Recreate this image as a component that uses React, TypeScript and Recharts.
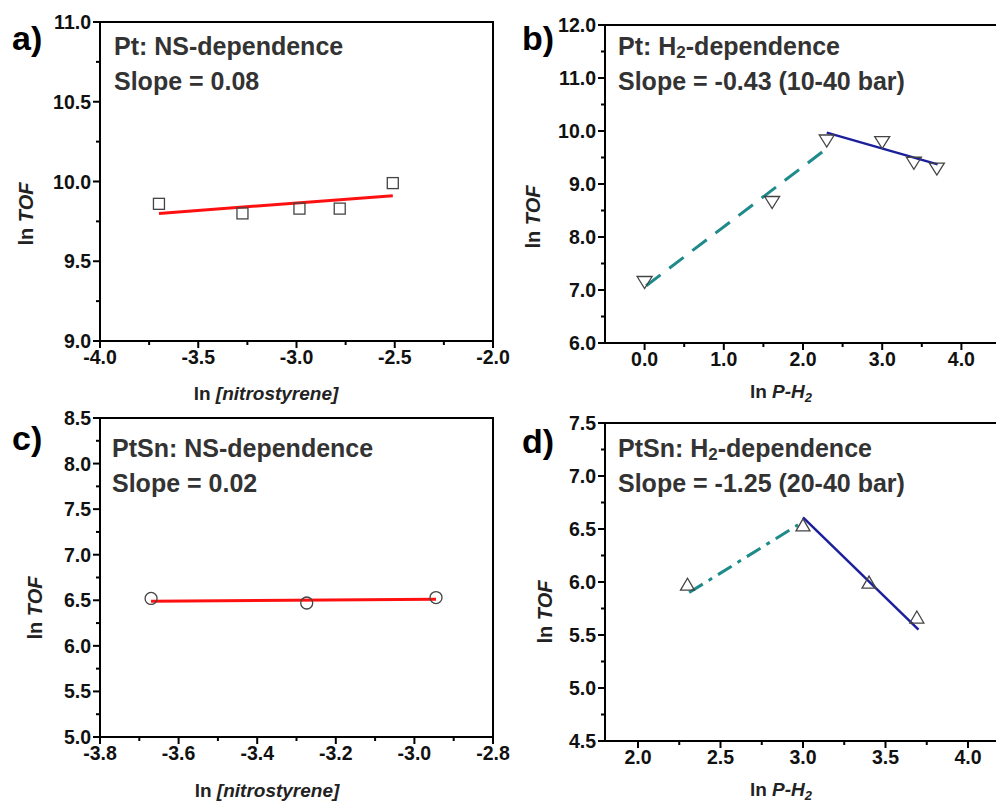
import { ComposedChart, Line, ReferenceArea, Scatter, XAxis, YAxis } from 'recharts';

const FONT = '"Liberation Sans", Arial, sans-serif';
const TEAL = '#1f8a8a';
const NAVY = '#1b1f9c';
const RED = '#ff1010';
const MARK = '#444';

// a) Pt: NS-dependence
const ptNsX = [-3.7, -3.275, -2.985, -2.78, -2.51];
const ptNsY = [9.86, 9.8, 9.83, 9.83, 9.99];
const ptNsFitX = [-3.7, -2.51];
const ptNsFitY = [9.8, 9.91];

// b) Pt: H2-dependence
const ptH2X = [0, 1.61, 2.3, 3.0, 3.4, 3.69];
const ptH2Y = [7.16, 8.67, 9.83, 9.8, 9.41, 9.3];
const ptH2LowFitX = [0.02, 2.31];
const ptH2LowFitY = [7.08, 9.68];
const ptH2HighFitX = [2.3, 3.7];
const ptH2HighFitY = [9.97, 9.37];

// c) PtSn: NS-dependence
const ptSnNsX = [-3.67, -3.274, -2.945];
const ptSnNsY = [6.52, 6.47, 6.53];
const ptSnNsFitX = [-3.67, -2.945];
const ptSnNsFitY = [6.49, 6.51];

// d) PtSn: H2-dependence
const ptSnH2X = [2.3, 3.0, 3.4, 3.69];
const ptSnH2Y = [5.97, 6.53, 5.99, 5.66];
const ptSnH2LowFitX = [2.31, 2.97];
const ptSnH2LowFitY = [5.9, 6.54];
const ptSnH2HighFitX = [3.0, 3.7];
const ptSnH2HighFitY = [6.61, 5.55];

// ticks
const aXMajor = [-4, -3.5, -3, -2.5, -2];
const aXMinor = [-3.75, -3.25, -2.75, -2.25];
const aYMajor = [9, 9.5, 10, 10.5, 11];
const aYMinor = [9.25, 9.75, 10.25, 10.75];
const bXMajor = [0, 1, 2, 3, 4];
const bXMinor = [0.5, 1.5, 2.5, 3.5];
const bYMajor = [6, 7, 8, 9, 10, 11, 12];
const bYMinor = [6.5, 7.5, 8.5, 9.5, 10.5, 11.5];
const cXMajor = [-3.8, -3.6, -3.4, -3.2, -3.0, -2.8];
const cXMinor = [-3.7, -3.5, -3.3, -3.1, -2.9];
const cYMajor = [5, 5.5, 6, 6.5, 7, 7.5, 8, 8.5];
const cYMinor = [5.25, 5.75, 6.25, 6.75, 7.25, 7.75, 8.25];
const dXMajor = [2, 2.5, 3, 3.5, 4];
const dXMinor = [2.25, 2.75, 3.25, 3.75];
const dYMajor = [4.5, 5, 5.5, 6, 6.5, 7, 7.5];
const dYMinor = [4.75, 5.25, 5.75, 6.25, 6.75, 7.25];

const rows = (xs: number[], ys: number[]) => xs.map((x, i) => ({ x, y: ys[i] }));
const isMajor = (v: number, majors: number[]) => majors.some((m) => Math.abs(m - v) < 1e-6);

function Square(p: any) {
  return <rect x={p.cx - 5.5} y={p.cy - 5.5} width={11} height={11} fill="none" stroke={MARK} strokeWidth={1.3} />;
}
function Circle(p: any) {
  return <circle cx={p.cx} cy={p.cy} r={6} fill="none" stroke={MARK} strokeWidth={1.3} />;
}
function TriDown(p: any) {
  const { cx, cy } = p;
  return <path d={`M${cx - 7.5},${cy - 5} L${cx + 7.5},${cy - 5} L${cx},${cy + 7} Z`} fill="none" stroke={MARK} strokeWidth={1.3} />;
}
function TriUp(p: any) {
  const { cx, cy } = p;
  return <path d={`M${cx - 7},${cy + 5} L${cx + 7},${cy + 5} L${cx},${cy - 7} Z`} fill="none" stroke={MARK} strokeWidth={1.3} />;
}

type Fit = { xs: number[]; ys: number[]; color: string; dash?: string; width: number };

type PanelProps = {
  left: number;
  top: number;
  height: number;
  margin: { top: number; right: number; bottom: number; left: number };
  xDomain: [number, number];
  yDomain: [number, number];
  xMajor: number[];
  xMinor: number[];
  yMajor: number[];
  yMinor: number[];
  pts: { x: number; y: number }[];
  shape: (p: any) => any;
  fits: Fit[];
};

function Panel(props: PanelProps) {
  const { xMajor, yMajor } = props;
  const xTicks = [...xMajor, ...props.xMinor].sort((a, b) => a - b);
  const yTicks = [...yMajor, ...props.yMinor].sort((a, b) => a - b);
  const textStyle = { fontFamily: FONT, fontWeight: 700, fontSize: 19.5, fill: '#111' };

  const xTick = (p: any) => {
    const v = p.payload.value;
    const major = isMajor(v, xMajor);
    const axisY = p.y - 9;
    return (
      <g key={`xt-${v}`}>
        <line x1={p.x} x2={p.x} y1={axisY} y2={axisY + (major ? 7 : 4)} stroke="#000" strokeWidth={2} />
        {major && (
          <text x={p.x} y={p.y} dy="0.71em" textAnchor="middle" style={textStyle}>
            {v.toFixed(1)}
          </text>
        )}
      </g>
    );
  };
  const yTick = (p: any) => {
    const v = p.payload.value;
    const major = isMajor(v, yMajor);
    const axisX = p.x + 9;
    return (
      <g key={`yt-${v}`}>
        <line x1={axisX} x2={axisX - (major ? 7 : 4)} y1={p.y} y2={p.y} stroke="#000" strokeWidth={2} />
        {major && (
          <text x={p.x} y={p.y} dy="0.36em" textAnchor="end" style={textStyle}>
            {v.toFixed(1)}
          </text>
        )}
      </g>
    );
  };

  return (
    <div style={{ position: 'absolute', left: props.left, top: props.top }}>
      <ComposedChart width={520} height={props.height} margin={props.margin}>
        <XAxis
          type="number"
          dataKey="x"
          domain={props.xDomain}
          allowDataOverflow
          ticks={xTicks}
          interval={0}
          height={30}
          tickSize={7}
          tickMargin={2}
          tickLine={false}
          axisLine={{ stroke: '#000', strokeWidth: 2 }}
          tick={xTick}
        />
        <YAxis
          type="number"
          dataKey="y"
          domain={props.yDomain}
          allowDataOverflow
          ticks={yTicks}
          interval={0}
          width={60}
          tickSize={7}
          tickMargin={2}
          tickLine={false}
          axisLine={{ stroke: '#000', strokeWidth: 2 }}
          tick={yTick}
        />
        <ReferenceArea
          x1={props.xDomain[0]}
          x2={props.xDomain[1]}
          y1={props.yDomain[0]}
          y2={props.yDomain[1]}
          fill="none"
          stroke="#000"
          strokeWidth={2}
          fillOpacity={0}
        />
        {props.fits.map((f, i) => (
          <Line
            key={i}
            data={rows(f.xs, f.ys)}
            dataKey="y"
            type="linear"
            stroke={f.color}
            strokeWidth={f.width}
            strokeDasharray={f.dash}
            dot={false}
            activeDot={false}
            isAnimationActive={false}
          />
        ))}
        <Scatter data={props.pts} shape={props.shape} isAnimationActive={false} />
      </ComposedChart>
    </div>
  );
}

export default function App() {
  const title = { fontFamily: FONT, fontWeight: 700, fontSize: 25, fill: '#333' };
  const letter = { fontFamily: FONT, fontWeight: 700, fontSize: 34, fill: '#000' };
  const axisLab = { fontFamily: FONT, fontWeight: 700, fontSize: 19, fill: '#222' };
  const yLab = { ...axisLab, fontSize: 20 };

  return (
    <div
      style={{
        position: 'absolute',
        left: 0,
        top: 0,
        width: 996,
        height: 805,
        overflow: 'hidden',
        background: '#fff',
      }}
    >
      <Panel
        left={0}
        top={0}
        height={400}
        margin={{ top: 22, right: 27, bottom: 29, left: 40 }}
        xDomain={[-4, -2]}
        yDomain={[9, 11]}
        xMajor={aXMajor}
        xMinor={aXMinor}
        yMajor={aYMajor}
        yMinor={aYMinor}
        pts={rows(ptNsX, ptNsY)}
        shape={Square}
        fits={[{ xs: ptNsFitX, ys: ptNsFitY, color: RED, width: 3 }]}
      />
      <Panel
        left={490}
        top={0}
        height={400}
        margin={{ top: 25, right: 9, bottom: 27, left: 55 }}
        xDomain={[-0.5, 4.5]}
        yDomain={[6, 12]}
        xMajor={bXMajor}
        xMinor={bXMinor}
        yMajor={bYMajor}
        yMinor={bYMinor}
        pts={rows(ptH2X, ptH2Y)}
        shape={TriDown}
        fits={[
          { xs: ptH2LowFitX, ys: ptH2LowFitY, color: TEAL, width: 3, dash: '18 11' },
          { xs: ptH2HighFitX, ys: ptH2HighFitY, color: NAVY, width: 2.5 },
        ]}
      />
      <Panel
        left={0}
        top={400}
        height={405}
        margin={{ top: 18, right: 27, bottom: 38, left: 40 }}
        xDomain={[-3.8, -2.8]}
        yDomain={[5, 8.5]}
        xMajor={cXMajor}
        xMinor={cXMinor}
        yMajor={cYMajor}
        yMinor={cYMinor}
        pts={rows(ptSnNsX, ptSnNsY)}
        shape={Circle}
        fits={[{ xs: ptSnNsFitX, ys: ptSnNsFitY, color: RED, width: 3 }]}
      />
      <Panel
        left={490}
        top={400}
        height={405}
        margin={{ top: 23, right: 9, bottom: 34, left: 55 }}
        xDomain={[1.8, 4.2]}
        yDomain={[4.5, 7.5]}
        xMajor={dXMajor}
        xMinor={dXMinor}
        yMajor={dYMajor}
        yMinor={dYMinor}
        pts={rows(ptSnH2X, ptSnH2Y)}
        shape={TriUp}
        fits={[
          { xs: ptSnH2LowFitX, ys: ptSnH2LowFitY, color: TEAL, width: 3, dash: '16 7 4 7' },
          { xs: ptSnH2HighFitX, ys: ptSnH2HighFitY, color: NAVY, width: 2.5 },
        ]}
      />

      <svg width={996} height={805} style={{ position: 'absolute', left: 0, top: 0, pointerEvents: 'none' }}>
        <text x={12} y={50} style={letter}>a)</text>
        <text x={522} y={50} style={letter}>b)</text>
        <text x={12} y={450} style={letter}>c)</text>
        <text x={522} y={453} style={letter}>d)</text>

        <text x={114} y={55} style={title}>Pt: NS-dependence</text>
        <text x={114} y={90} style={title}>Slope = 0.08</text>
        <text x={618} y={55} style={title}>
          <tspan>Pt: H</tspan>
          <tspan fontSize={17} dy={3}>2</tspan>
          <tspan dy={-3}>-dependence</tspan>
        </text>
        <text x={618} y={90} style={title}>Slope = -0.43 (10-40 bar)</text>
        <text x={112} y={457} style={title}>PtSn: NS-dependence</text>
        <text x={112} y={492} style={title}>Slope = 0.02</text>
        <text x={618} y={457} style={title}>
          <tspan>PtSn: H</tspan>
          <tspan fontSize={17} dy={3}>2</tspan>
          <tspan dy={-3}>-dependence</tspan>
        </text>
        <text x={618} y={492} style={title}>Slope = -1.25 (20-40 bar)</text>

        <text x={33} y={214} textAnchor="middle" transform="rotate(-90 33 214)" style={yLab}>
          <tspan>ln </tspan>
          <tspan fontStyle="italic">TOF</tspan>
        </text>
        <text x={540} y={217} textAnchor="middle" transform="rotate(-90 540 217)" style={yLab}>
          <tspan>ln </tspan>
          <tspan fontStyle="italic">TOF</tspan>
        </text>
        <text x={42} y={608} textAnchor="middle" transform="rotate(-90 42 608)" style={yLab}>
          <tspan>ln </tspan>
          <tspan fontStyle="italic">TOF</tspan>
        </text>
        <text x={552} y={612} textAnchor="middle" transform="rotate(-90 552 612)" style={yLab}>
          <tspan>ln </tspan>
          <tspan fontStyle="italic">TOF</tspan>
        </text>

        <text x={266} y={400} textAnchor="middle" style={axisLab}>
          <tspan>ln </tspan>
          <tspan fontStyle="italic">[nitrostyrene]</tspan>
        </text>
        <text x={267} y={797} textAnchor="middle" style={axisLab}>
          <tspan>ln </tspan>
          <tspan fontStyle="italic">[nitrostyrene]</tspan>
        </text>
        <text x={781} y={398} textAnchor="middle" style={axisLab}>
          <tspan>ln </tspan>
          <tspan fontStyle="italic">P-H</tspan>
          <tspan fontStyle="italic" fontSize={13} dy={4}>2</tspan>
        </text>
        <text x={781} y={796} textAnchor="middle" style={axisLab}>
          <tspan>ln </tspan>
          <tspan fontStyle="italic">P-H</tspan>
          <tspan fontStyle="italic" fontSize={13} dy={4}>2</tspan>
        </text>
      </svg>
    </div>
  );
}
